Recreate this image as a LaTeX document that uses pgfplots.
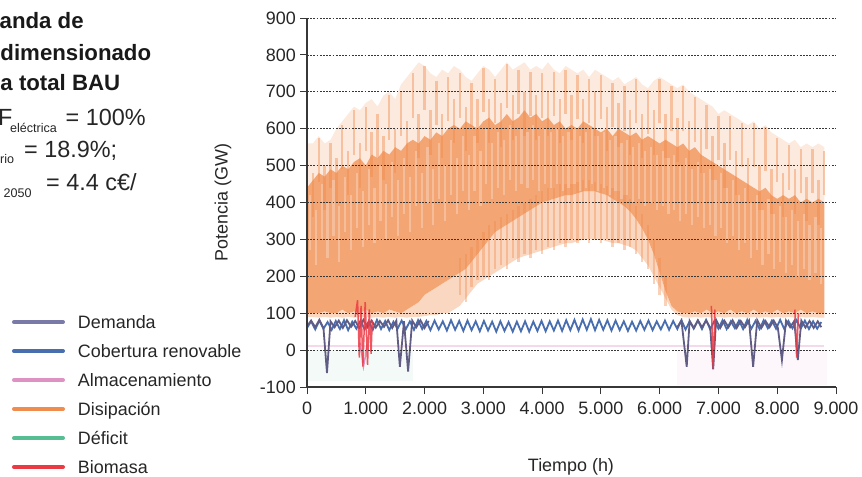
\documentclass[border=0pt]{standalone}
\usepackage{fontspec}
\setmainfont{Liberation Sans}
\usepackage{pgfplots}
\usepackage{pgfplotstable}
\pgfplotsset{compat=1.18}
\usepgfplotslibrary{fillbetween}
\definecolor{cDem}{RGB}{122,122,168}
\definecolor{cDemD}{RGB}{96,92,132}
\definecolor{cRen}{RGB}{72,110,176}
\definecolor{cAlm}{RGB}{222,146,196}
\definecolor{cDis}{RGB}{240,140,78}
\definecolor{cCore}{RGB}{242,155,100}
\definecolor{cDef}{RGB}{86,190,146}
\definecolor{cBio}{RGB}{236,58,68}
\definecolor{cGrid}{RGB}{55,55,55}

\pgfplotstableread{
x lo clo chi hi
0 90 100 440 560
100 90 100 460 560
200 88 100 480 580
300 90 105 470 560
400 88 100 490 570
500 90 100 480 600
600 88 110 500 620
700 90 100 490 640
800 88 105 510 660
900 90 100 520 650
1000 90 110 500 670
1100 88 100 530 680
1200 90 105 520 660
1300 88 100 540 690
1400 90 110 530 700
1500 88 105 550 680
1600 90 100 540 720
1700 88 110 560 740
1800 90 120 570 760
1900 90 130 560 780
2000 92 150 580 770
2100 95 160 570 750
2200 95 170 590 740
2300 100 180 580 760
2400 100 190 600 750
2500 110 200 610 770
2600 120 210 600 760
2700 140 220 620 740
2800 160 240 610 730
2900 180 260 600 750
3000 190 280 620 770
3100 200 300 630 760
3200 210 320 610 740
3300 220 330 620 760
3400 230 340 640 780
3500 240 350 620 760
3600 250 360 630 770
3700 255 370 650 780
3800 260 380 630 760
3900 265 390 640 770
4000 270 400 620 760
4100 275 405 630 780
4200 280 410 610 760
4300 285 415 620 750
4400 290 420 600 770
4500 290 420 610 760
4600 295 425 600 750
4700 300 430 620 760
4800 300 430 610 740
4900 300 430 600 760
5000 300 425 590 750
5100 295 420 600 740
5200 290 410 580 730
5300 290 400 600 740
5400 285 390 590 720
5500 280 375 580 730
5600 270 355 590 740
5700 250 330 570 720
5800 230 300 580 710
5900 200 260 570 730
6000 170 210 560 740
6100 140 160 570 730
6200 110 120 560 720
6300 95 105 550 710
6400 90 100 560 720
6500 88 100 540 700
6600 90 105 550 690
6700 88 100 530 680
6800 90 110 520 670
6900 88 100 510 660
7000 90 105 500 640
7100 88 100 490 650
7200 90 110 480 640
7300 88 100 470 630
7400 90 105 460 620
7500 88 100 450 610
7600 90 110 440 620
7700 88 100 430 600
7800 90 105 440 610
7900 88 100 420 590
8000 90 110 410 580
8100 88 100 420 570
8200 90 105 410 560
8300 88 100 420 570
8400 90 110 400 550
8500 88 100 410 560
8600 90 105 400 550
8700 88 100 410 560
8800 88 100 400 550
}\envtab

% tops of the orange streaks
\pgfplotstableread{
x t
0 520
100 480
200 575
300 500
400 560
500 520
600 610
700 540
800 650
900 560
1000 660
1100 590
1200 640
1300 580
1400 690
1500 600
1600 700
1700 620
1800 750
1900 640
2000 770
2100 650
2200 730
2300 640
2400 740
2500 680
2600 750
2700 660
2800 725
2900 680
3000 765
3100 680
3200 735
3300 670
3400 775
3500 690
3600 760
3700 700
3800 755
3900 690
4000 750
4100 700
4200 755
4300 680
4400 760
4500 690
4600 745
4700 680
4800 735
4900 700
5000 745
5100 660
5200 725
5300 670
5400 715
5500 650
5600 735
5700 640
5800 705
5900 650
6000 735
6100 640
6200 715
6300 630
6400 715
6500 620
6600 685
6700 600
6800 665
6900 580
7000 635
7100 560
7200 635
7300 540
7400 615
7500 520
7600 615
7700 500
7800 605
7900 490
8000 575
8100 480
8200 555
8300 490
8400 545
8500 470
8600 545
8700 460
8800 540
}\streakA

% tops of the light streaks inside the core
\pgfplotstableread{
x t
50 420
150 380
250 450
350 400
450 460
550 390
650 470
750 420
850 480
950 430
1050 490
1150 440
1250 500
1350 450
1450 510
1550 460
1650 520
1750 470
1850 540
1950 480
2050 550
2150 490
2250 560
2350 500
2450 570
2550 520
2650 580
2750 530
2850 580
2950 540
3050 600
3150 560
3250 590
3350 570
3450 610
3550 580
3650 600
3750 590
3850 610
3950 580
4050 600
4150 590
4250 600
4350 580
4450 590
4550 600
4650 580
4750 590
4850 600
4950 580
5050 590
5150 570
5250 580
5350 560
5450 570
5550 550
5650 560
5750 540
5850 550
5950 530
6050 540
6150 520
6250 530
6350 500
6450 520
6550 490
6650 510
6750 480
6850 490
6950 460
7050 480
7150 440
7250 460
7350 420
7450 440
7550 400
7650 420
7750 380
7850 410
7950 370
8050 390
8150 360
8250 380
8350 350
8450 370
8550 340
8650 360
8750 330
}\streakB

% summer streaks below the core: top and length
\pgfplotstableread{
x y d
2600 250 100
2700 260 130
2800 280 110
2900 300 110
3000 320 120
3100 340 150
3200 350 130
3300 360 130
3400 370 150
3500 380 130
3600 390 150
3700 400 140
3800 410 160
3900 420 150
4000 430 170
4100 440 160
4200 440 170
4300 450 160
4400 450 170
4500 450 150
4600 455 165
4700 460 160
4800 460 170
4900 455 155
5000 450 160
5100 445 145
5200 440 160
5300 430 140
5400 420 150
5500 410 130
5600 390 130
5700 370 130
5800 340 120
5900 300 120
6000 250 100
6100 200 80
}\streakC

\begin{document}
\begin{tikzpicture}
\begin{axis}[
  at={(307bp,-387bp)}, anchor=south west,
  scale only axis, width=529bp, height=369bp,
  xmin=0, xmax=9000, ymin=-100, ymax=900,
  axis x line*=bottom, axis y line*=left,
  axis line style={cGrid, line width=1.1bp},
  tick style={cGrid, line width=1bp},
  tick align=outside, major tick length=7bp,
  xtick={0,1000,2000,3000,4000,5000,6000,7000,8000,9000},
  xticklabels={0,1.000,2.000,3.000,4.000,5.000,6.000,7.000,8.000,9.000},
  ytick={-100,0,100,200,300,400,500,600,700,800,900},
  yticklabels={-100,0,100,200,300,400,500,600,700,800,900},
  ymajorgrids=true,
  major grid style={cGrid, dash pattern=on 1.8bp off 1.4bp, line width=0.8bp},
  ticklabel style={font=\fontsize{18}{18}\selectfont, text=black!85},
  xticklabel style={inner sep=0pt, yshift=-8bp},
  yticklabel style={inner sep=0pt, xshift=-4bp},
  /pgf/number format/assume math mode=true,
  xlabel={Tiempo (h)}, ylabel={Potencia (GW)},
  label style={font=\fontsize{18}{18}\selectfont, text=black!85},
  xlabel style={at={(axis description cs:0.499,-0.217)}, anchor=center},
  ylabel style={at={(axis description cs:-0.159,0.5)}, anchor=center},
  axis on top,
  unbounded coords=jump,
  legend style={at={(axis description cs:-0.5577,0.1951)}, anchor=north west,
    draw=none, fill=none, inner sep=0pt, outer sep=0pt,
    font=\fontsize{18}{18}\selectfont, text=black!85,
    row sep=12bp, column sep=13bp,
    nodes={inner sep=0pt, text height=13bp, text depth=4bp, anchor=base west}},
  legend image code/.code={\draw[#1, line width=4bp, line cap=round] (0bp,6bp) -- (49bp,6bp);},
]
\addlegendimage{color=cDem}\addlegendentry{Demanda}
\addlegendimage{color=cRen}\addlegendentry{Cobertura renovable}
\addlegendimage{color=cAlm}\addlegendentry{Almacenamiento}
\addlegendimage{color=cDis}\addlegendentry{Disipación}
\addlegendimage{color=cDef}\addlegendentry{Déficit}
\addlegendimage{color=cBio}\addlegendentry{Biomasa}

% faint areas below zero
\addplot[draw=none, fill=cDef, fill opacity=0.07, forget plot] coordinates {(0,-85) (1800,-85)} \closedcycle;
\addplot[draw=none, fill=cAlm, fill opacity=0.07, forget plot] coordinates {(6300,-95) (8850,-95)} \closedcycle;

% Disipacion envelopes
\addplot[name path=LO, draw=none, forget plot] table[x=x,y=lo]{\envtab};
\addplot[name path=CLO, draw=none, forget plot] table[x=x,y=clo]{\envtab};
\addplot[name path=CHI, draw=none, forget plot] table[x=x,y=chi]{\envtab};
\addplot[name path=HI, draw=none, forget plot] table[x=x,y=hi]{\envtab};
\addplot[fill=cDis, fill opacity=0.18, forget plot] fill between[of=CHI and HI];
\addplot[fill=cDis, fill opacity=0.35, forget plot] fill between[of=LO and CLO];
\addplot[fill=cCore, fill opacity=0.9, forget plot] fill between[of=CLO and CHI];

% orange streaks reaching into the upper fringe
\addplot[draw=none, mark=none, forget plot,
  error bars/.cd, y dir=minus, y fixed=120, error mark=none,
  error bar style={draw=cDis, line width=2.4bp, opacity=0.45}]
  table[x=x, y=t] {\streakA};
% light streaks inside the core
\addplot[draw=none, mark=none, forget plot,
  error bars/.cd, y dir=minus, y fixed=150, error mark=none,
  error bar style={draw=white, line width=2.2bp, opacity=0.28}]
  table[x=x, y=t] {\streakB};
% summer streaks below the core
\addplot[draw=none, mark=none, forget plot,
  error bars/.cd, y dir=minus, y explicit, error mark=none,
  error bar style={draw=cDis, line width=2.4bp, opacity=0.4}]
  table[x=x, y=y, y error minus=d] {\streakC};

% Almacenamiento (faint band near zero and dip)
\addplot[cAlm, opacity=0.35, line width=2bp, forget plot] coordinates {(0,12)(8800,12)};
\addplot[cAlm, line width=1.5bp, forget plot] coordinates {(900,20)(930,-10)(960,-45)(990,-20)(1020,15)};

% Cobertura renovable
\addplot[cRen, line width=1.8bp, forget plot] coordinates {
(0,60)(70,78)(140,56)(210,80)(280,58)(350,76)(420,55)(490,79)(560,57)(630,81)
(700,54)(770,77)(840,58)(910,80)(980,56)(1050,78)(1120,55)(1190,82)(1260,57)(1330,79)
(1400,54)(1470,77)(1540,58)(1610,80)(1680,56)(1750,78)(1820,55)(1890,81)(1960,57)(2030,79)
(2100,54)(2170,80)(2240,56)(2310,78)(2380,53)(2450,81)(2520,55)(2590,79)(2660,52)(2730,80)
(2800,54)(2870,78)(2940,51)(3010,79)(3080,53)(3150,77)(3220,50)(3290,78)(3360,52)(3430,76)
(3500,50)(3570,77)(3640,51)(3710,78)(3780,50)(3850,77)(3920,52)(3990,79)(4060,51)(4130,78)
(4200,53)(4270,80)(4340,52)(4410,81)(4480,54)(4550,82)(4620,53)(4690,83)(4760,55)(4830,84)
(4900,54)(4970,82)(5040,55)(5110,81)(5180,53)(5250,80)(5320,54)(5390,78)(5460,52)(5530,77)
(5600,53)(5670,79)(5740,55)(5810,80)(5880,54)(5950,78)(6020,56)(6090,80)(6160,55)(6230,79)
(6300,57)(6370,81)(6440,56)(6510,78)(6580,58)(6650,80)(6720,57)(6790,82)(6860,56)(6930,79)
(7000,58)(7070,81)(7140,57)(7210,78)(7280,59)(7350,80)(7420,57)(7490,82)(7560,58)(7630,79)
(7700,57)(7770,81)(7840,59)(7910,80)(7980,58)(8050,82)(8120,57)(8190,79)(8260,59)(8330,81)
(8400,58)(8470,80)(8540,57)(8610,78)(8680,58)(8750,76)};

% Demanda (visible in winter)
\addplot[cDemD, line width=1.8bp, forget plot] coordinates {
(0,65)(70,80)(140,62)(210,82)(280,60)(340,-62)(400,78)(470,62)(540,80)(610,60)
(680,81)(750,63)(820,79)(890,60)(960,82)(1030,62)(1100,80)(1170,61)(1240,79)(1310,63)
(1380,81)(1450,60)(1520,80)(1580,-45)(1650,78)(1720,-58)(1790,80)(1860,62)(1930,81)(2000,60)
(2070,79)(2100,nan)
(6300,62)(6370,80)(6460,-45)(6510,79)(6580,60)(6650,81)(6720,62)(6790,80)(6860,61)(6910,-52)
(6960,82)(7030,60)(7100,80)(7170,62)(7240,81)(7310,60)(7380,79)(7450,62)(7520,80)(7590,-45)
(7660,81)(7730,60)(7800,79)(7870,62)(7940,80)(8010,61)(8080,-27)(8150,80)(8220,62)(8290,79)
(8350,-27)(8410,80)(8480,61)(8550,79)(8620,60)(8690,78)(8750,62)};

% Biomasa
\addplot[cBio, line width=1.5bp, opacity=0.85, forget plot] coordinates {
(820,90)(860,135)(890,-20)(920,120)(950,-45)(990,130)(1030,-40)(1060,110)(1090,-10)(1110,80)
(1120,nan)
(6880,120)(6910,-50)(6940,110)
(6950,nan)
(8300,110)(8330,-20)(8360,100)};
\end{axis}

% texts on the left (cropped in the reference)
\node[anchor=base west, inner sep=0pt, font=\fontsize{22.3}{22.3}\selectfont\bfseries, text=black!90] at (-0.5bp,-28.5bp) {anda de};
\node[anchor=base west, inner sep=0pt, font=\fontsize{22.3}{22.3}\selectfont\bfseries, text=black!90] at (0.3bp,-60bp) {dimensionado};
\node[anchor=base west, inner sep=0pt, font=\fontsize{22.3}{22.3}\selectfont\bfseries, text=black!90] at (0.3bp,-90.5bp) {a total BAU};
\node[anchor=base west, inner sep=0pt, font=\fontsize{23.5}{23.5}\selectfont, text=black!85] at (-2bp,-125bp) {F};
\node[anchor=base west, inner sep=0pt, font=\fontsize{12.6}{12.6}\selectfont, text=black!85] at (10bp,-132bp) {eléctrica};
\node[anchor=base west, inner sep=0pt, font=\fontsize{23.5}{23.5}\selectfont, text=black!85] at (65.5bp,-125bp) {= 100\%};
\node[anchor=base west, inner sep=0pt, font=\fontsize{12.6}{12.6}\selectfont, text=black!85] at (0bp,-163bp) {rio};
\node[anchor=base west, inner sep=0pt, font=\fontsize{23.5}{23.5}\selectfont, text=black!85] at (24bp,-157bp) {= 18.9\%;};
\node[anchor=base west, inner sep=0pt, font=\fontsize{12.6}{12.6}\selectfont, text=black!85] at (3.5bp,-197bp) {2050};
\node[anchor=base west, inner sep=0pt, font=\fontsize{23.5}{23.5}\selectfont, text=black!85] at (46bp,-190bp) {= 4.4 c€/};

\pgfresetboundingbox
\path[use as bounding box] (0,0) rectangle (862bp,-477bp);
\end{tikzpicture}
\end{document}
